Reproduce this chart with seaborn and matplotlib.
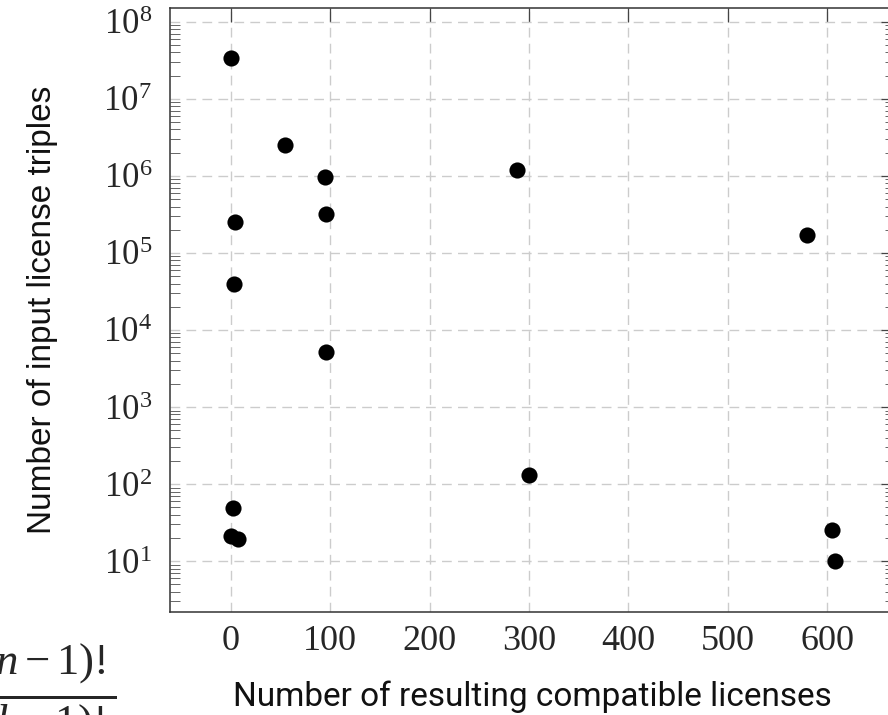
import numpy as np
import pandas as pd
import matplotlib
matplotlib.use("Agg")
import matplotlib.pyplot as plt
import matplotlib.ticker as ticker
import seaborn as sns

# values
licenses = [0, 55, 95, 96, 4, 3, 96, 288, 580, 300, 605, 608, 2, 0, 7]
triples = [3.4e7, 2.5e6, 9.6e5, 3.2e5, 2.5e5, 3.9e4, 5.2e3, 1.2e6, 1.7e5,
           130, 25, 10, 49, 21, 19.5]
y_decades = [1, 2, 3, 4, 5, 6, 7, 8]
x_ticks = [0, 100, 200, 300, 400, 500, 600]

df = pd.DataFrame({"licenses": licenses, "triples": triples})

sns.set_style("white")
plt.rcParams["font.family"] = ["Liberation Serif", "DejaVu Serif"]
plt.rcParams["mathtext.fontset"] = "custom"
plt.rcParams["mathtext.rm"] = "Liberation Serif"
plt.rcParams["mathtext.it"] = "Liberation Serif:italic"

fig = plt.figure(figsize=(8.88, 7.15), dpi=100)
ax = fig.add_axes([170 / 888, 1 - 612 / 715, 725 / 888, 604 / 715])

sns.scatterplot(data=df, x="licenses", y="triples", ax=ax, color="black",
                s=135, edgecolor="black", linewidth=0, zorder=3)

ax.set_yscale("log")
ax.set_xlim(-61, 668)
ax.set_ylim(10 ** 0.34, 10 ** 8.178)

ax.set_xticks(x_ticks)
ax.set_yticks([10.0 ** d for d in y_decades])
ax.yaxis.set_major_formatter(ticker.FuncFormatter(
    lambda v, p: r"$10^{%d}$" % int(round(np.log10(v)))))
ax.yaxis.set_minor_locator(ticker.LogLocator(base=10, subs=np.arange(2, 10), numticks=20))
ax.yaxis.set_minor_formatter(ticker.NullFormatter())

ax.tick_params(axis="both", which="major", direction="in", length=10, width=0.9,
               color="#444444", top=True, right=True)
ax.tick_params(axis="x", which="major", pad=9, labelsize=26)
ax.tick_params(axis="y", which="major", pad=13, labelsize=25)
ax.tick_params(axis="y", which="minor", direction="in", length=7, width=0.7,
               color="#666666", left=True, right=True)

ax.grid(True, which="major", color="#cccccc", linewidth=1.0, linestyle=(0, (7, 4.5)))
ax.set_axisbelow(True)
for sp in ax.spines.values():
    sp.set_color("#333333")
    sp.set_linewidth(1.1)

ax.set_xlabel("Number of resulting compatible licenses", family=["Roboto", "DejaVu Sans"],
              fontsize=24, color="#111111")
ax.set_ylabel("Number of input license triples", family=["Liberation Sans", "DejaVu Sans"],
              fontsize=24, color="#111111")
ax.xaxis.set_label_coords(0.5, -0.114)
ax.yaxis.set_label_coords(-0.155, 0.5)

# fragment of a formula cut by the left and bottom edges, as in the source
fig.text(117 / 888, 1 - 694 / 715, r"$\frac{(n-1)!}{(k-1)!}$", fontsize=46,
         ha="right", va="center")

fig.savefig("out.png", dpi=100)
